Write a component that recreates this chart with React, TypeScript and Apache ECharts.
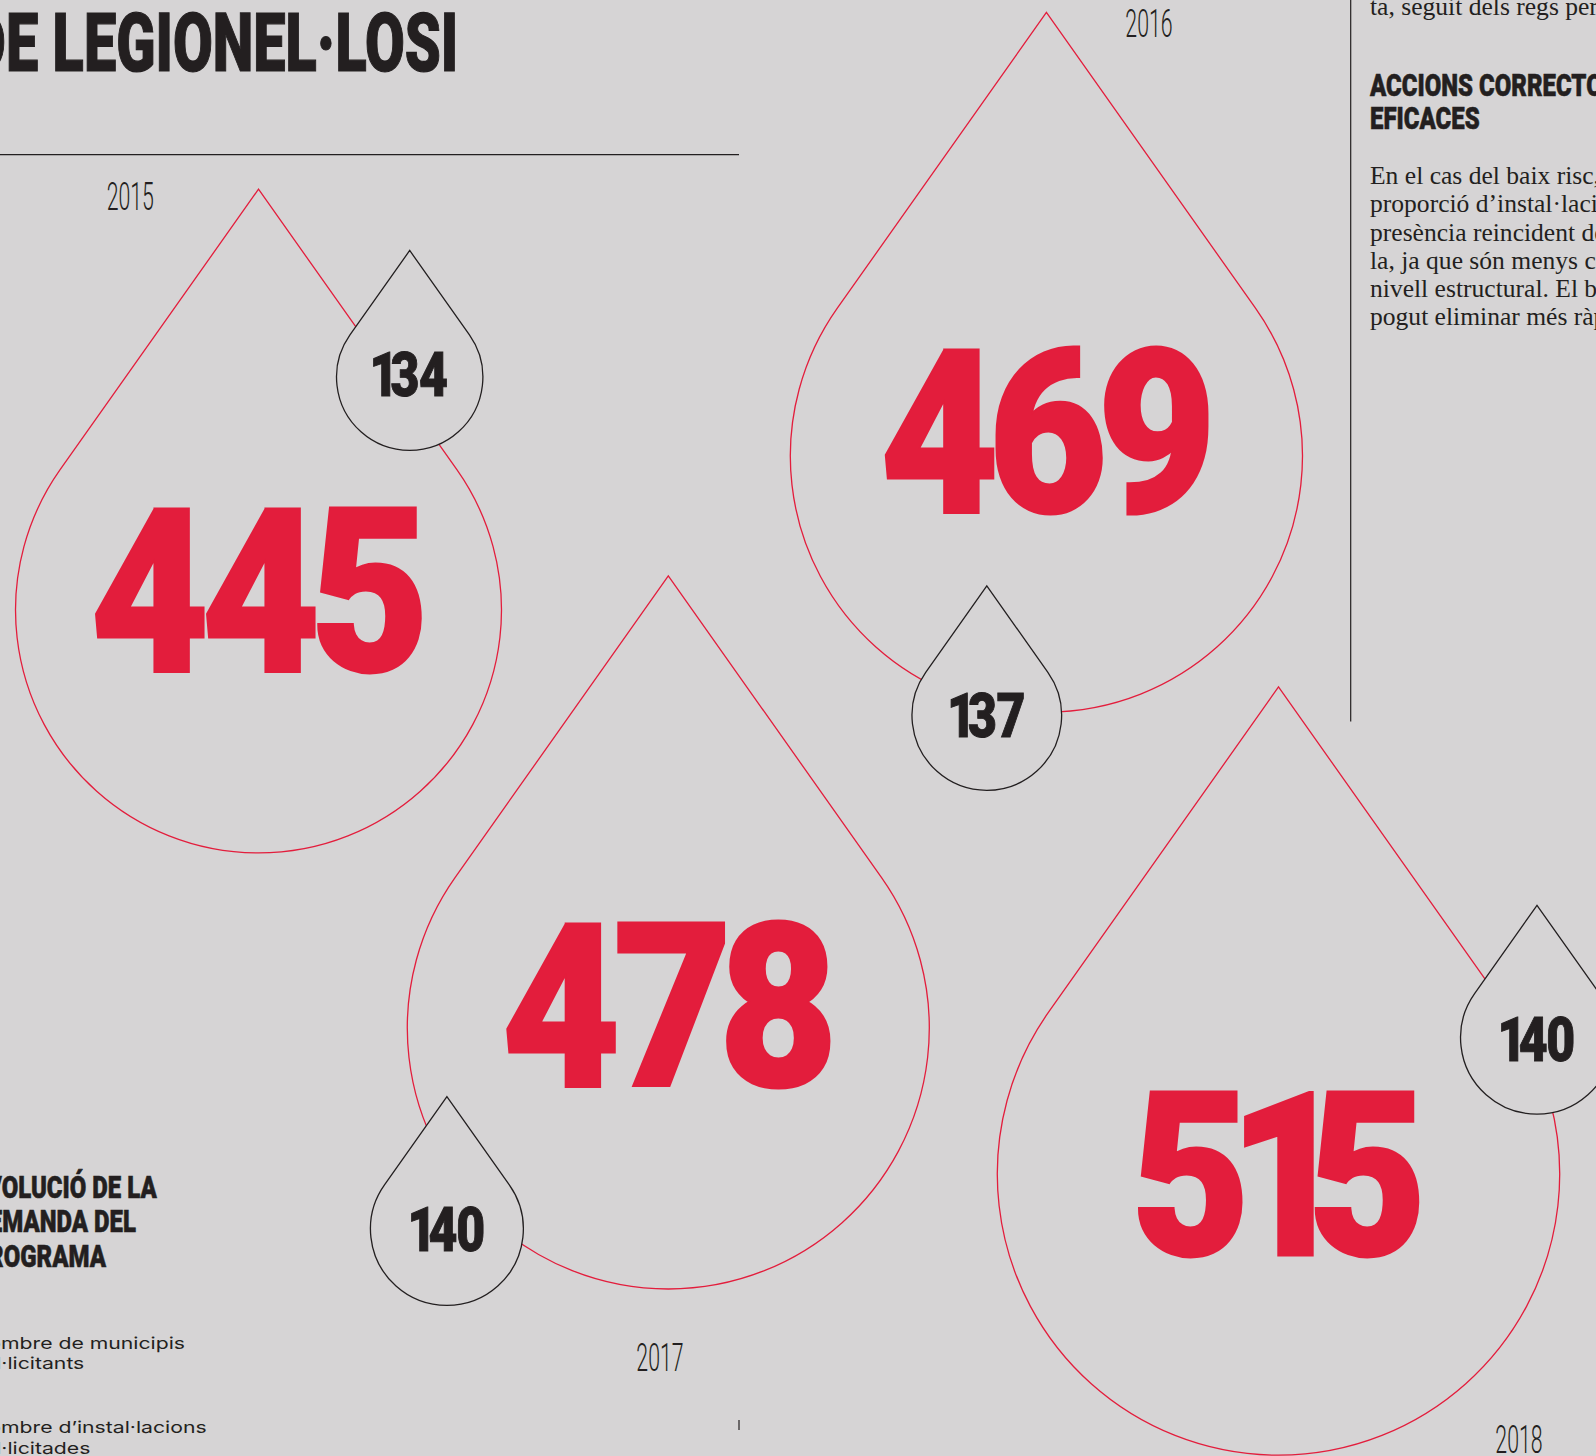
import React, { useEffect, useRef } from 'react';
import * as echarts from 'echarts';

// ---------------- data ----------------
const years = ['2015', '2016', '2017', '2018'];
const installacions = [445, 469, 478, 515]; // big red drops
const municipis = [134, 137, 140, 140]; // small black drops
const seriesNames = ['Nombre d’instal·lacions sol·licitades', 'Nombre de municipis sol·licitants'];

const titleText = 'DE LEGIONEL·LOSI';
const chartHeading = ['EVOLUCIÓ DE LA', 'DEMANDA DEL', 'PROGRAMA'];
const legendItems = ['Nombre de municipis\nsol·licitants', 'Nombre d’instal·lacions\nsol·licitades'];
const sideTopLine = 'ta, seguit dels regs per';
const sideHeading = ['ACCIONS CORRECTORES', 'EFICACES'];
const sideBody = [
  'En el cas del baix risc, la',
  'proporció d’instal·lacions',
  'presència reincident de',
  'la, ja que són menys co',
  'nivell estructural. El ba',
  'pogut eliminar més ràpid',
];

// ---------------- layout (page pixels) ----------------
const W = 1596;
const H = 1456;
const bigPos = [[258.5, 610], [1046.4, 456], [668.3, 1028], [1278.5, 1174]];
const bigLabelDy = [-20, -25, -23, 0];
const smallPos = [[409.7, 377.2], [986.8, 715.5], [446.9, 1229], [1537, 1037.7]];
const smallLabelDy = [-3, 0, 0, 2];
const yearPos = [[130.3, 196.3], [1149, 23.3], [660, 1357.5], [1519, 1439]];
const legendBaselines = [1349, 1433.3];
const PX_PER_UNIT = 0.546;

// ---------------- styles ----------------
const BG = '#d6d4d5';
const RED = '#e31d3c';
const INK = '#231f20';
const SANS = 'Roboto, "Noto Sans", "DejaVu Sans", sans-serif';
const SERIF = '"Liberation Serif", "DejaVu Serif", serif';
const GEO = 'Inter, "Noto Sans", sans-serif';
const CAP = 0.711;

let ctx: any = null;
function metrics(text: string, weight: number, size: number, family: string) {
  if (!ctx) ctx = document.createElement('canvas').getContext('2d');
  ctx.font = `${weight} ${size}px ${family}`;
  const m = ctx.measureText(text);
  const L = m.actualBoundingBoxLeft || 0;
  const R = m.actualBoundingBoxRight || m.width;
  return { L, R, ink: L + R > 0 ? L + R : m.width, adv: m.width };
}
function condensed(cap: number, weight: number, ref: string, target: number, stroke = 0) {
  const size = (cap - stroke) / CAP;
  const sx = (target - stroke) / metrics(ref, weight, size, SANS).ink;
  return { size, weight, family: SANS, sx, stroke };
}

function capText(text: string, x: number, y: number, st: any, fill: string, align = 'center') {
  const style: any = {
    text,
    fill,
    fontFamily: st.family,
    fontWeight: st.weight,
    fontSize: st.size,
    align,
    verticalAlign: 'middle',
  };
  if (st.stroke) {
    style.stroke = fill;
    style.lineWidth = st.stroke;
  }
  return { type: 'text', x, y: y + 0.0135 * st.size, scaleX: st.sx, scaleY: 1, style };
}

// digits laid out one by one with tight, even gaps (ink to ink)
function digitSx(ref: string, cap: number, weight: number, target: number, gap: number, stroke: number) {
  const size = (cap - stroke) / CAP;
  let sum = 0;
  for (const ch of ref) sum += metrics(ch, weight, size, SANS).ink;
  const sx = (target - stroke - gap * (ref.length - 1)) / sum;
  return { size, weight, family: SANS, sx, stroke, gap };
}
function digitTexts(text: string, cx: number, cy: number, st: any, fill: string) {
  const ms = Array.from(text).map((ch) => metrics(ch, st.weight, st.size, st.family));
  const total = ms.reduce((a, m) => a + m.ink * st.sx, 0) + st.gap * (ms.length - 1);
  let p = cx - total / 2;
  return Array.from(text).map((ch, i) => {
    const m = ms[i];
    const el = capText(ch, p + m.L * st.sx, cy, st, fill, 'left');
    p += m.ink * st.sx + st.gap;
    return el;
  });
}

function baseText(text: string, x: number, baseline: number, size: number, family: string, k: number, fill: string) {
  return {
    type: 'text',
    x,
    y: baseline - k * size,
    style: { text, fill, fontFamily: family, fontWeight: 400, fontSize: size, align: 'left', verticalAlign: 'middle' },
  };
}

function dropPath(r: number) {
  const d = Math.sqrt(3) * r;
  const tx = r * Math.sqrt(2 / 3);
  const ty = -r / Math.sqrt(3);
  return `M0 ${-d} L${tx} ${ty} A${r} ${r} 0 1 1 ${-tx} ${ty} Z`;
}

export default function App() {
  const ref = useRef<HTMLDivElement>(null);
  useEffect(() => {
    document.body.style.margin = '0';
    document.body.style.background = BG;
    const BIG = digitSx('445', 165, 900, 328, 3, 3);
    const SMALL = digitSx('134', 44.5, 900, 75, 1.5, 1);
    const YEAR = condensed(27.3, 300, '2015', 46);
    const TITLE = condensed(59, 900, 'LEGIONEL·LOSI', 401, 1.2);
    const HEAD = condensed(23.5, 900, 'EFICACES', 109.3, 0.6);
    const bodySize = 24 * 223 / metrics('En el cas del baix risc', 400, 24, SERIF).ink;
    const legSize = 16.5;
    const legSx = 182 / metrics('mbre de municipis', 400, legSize, GEO).ink;
    const legX = 1 - metrics('No', 400, legSize, GEO).adv * legSx;
    const legLH = 20.8;

    const chart = echarts.init(ref.current!, null, { renderer: 'svg' });

    const renderBig = (params: any, api: any) => {
      const i = params.dataIndex;
      const p = api.coord([api.value(0), api.value(1)]);
      const v = api.value(2);
      const r = v * PX_PER_UNIT;
      const yp = api.coord(yearPos[i]);
      return {
        type: 'group',
        children: [
          { type: 'path', x: p[0], y: p[1], shape: { pathData: dropPath(r) }, style: { fill: BG, stroke: RED, lineWidth: 1.3 } },
          ...digitTexts(String(v), p[0], p[1] + bigLabelDy[i], BIG, RED),
          capText(years[i], yp[0], yp[1], YEAR, INK),
        ],
      };
    };
    const renderSmall = (params: any, api: any) => {
      const i = params.dataIndex;
      const p = api.coord([api.value(0), api.value(1)]);
      const v = api.value(2);
      const r = v * PX_PER_UNIT;
      return {
        type: 'group',
        children: [
          { type: 'path', x: p[0], y: p[1], shape: { pathData: dropPath(r) }, style: { fill: BG, stroke: INK, lineWidth: 1.3 } },
          ...digitTexts(String(v), p[0], p[1] + smallLabelDy[i], SMALL, INK),
        ],
      };
    };

    const graphic: any[] = [
      capText(titleText, 458.3, 42.2, TITLE, INK, 'right'),
      { type: 'line', shape: { x1: 0, y1: 154.7, x2: 739, y2: 154.7 }, style: { stroke: INK, lineWidth: 1.2 } },
      { type: 'line', shape: { x1: 1350.7, y1: 0, x2: 1350.7, y2: 721.5 }, style: { stroke: INK, lineWidth: 1.2 } },
      { type: 'line', shape: { x1: 739, y1: 1420, x2: 739, y2: 1430 }, style: { stroke: INK, lineWidth: 1.2 } },
      baseText(sideTopLine, 1370, 15, bodySize, SERIF, 0.3375, INK),
      capText(sideHeading[0], 1370, 84.7, HEAD, INK, 'left'),
      capText(sideHeading[1], 1370, 117.7, HEAD, INK, 'left'),
      ...sideBody.map((t, i) => baseText(t, 1370, 184.3 + i * 28.2, bodySize, SERIF, 0.3375, INK)),
      capText(chartHeading[0], 156.7, 1186.7, HEAD, INK, 'right'),
      capText(chartHeading[1], 136, 1221.2, HEAD, INK, 'right'),
      capText(chartHeading[2], 106, 1255.8, HEAD, INK, 'right'),
      ...legendItems.map((t, i) => ({
        type: 'text',
        x: legX,
        y: legendBaselines[i] - legLH / 2 - 0.363 * legSize,
        scaleX: legSx,
        scaleY: 1,
        style: {
          text: t,
          fill: INK,
          fontFamily: GEO,
          fontWeight: 400,
          fontSize: legSize,
          lineHeight: legLH,
          align: 'left',
          verticalAlign: 'top',
        },
      })),
    ];

    chart.setOption({
      backgroundColor: BG,
      animation: false,
      grid: { left: 0, right: 0, top: 0, bottom: 0 },
      xAxis: { type: 'value', min: 0, max: W, show: false },
      yAxis: { type: 'value', min: 0, max: H, inverse: true, show: false },
      series: [
        {
          type: 'custom',
          name: seriesNames[0],
          z: 2,
          silent: true,
          clip: false,
          data: installacions.map((v, i) => [bigPos[i][0], bigPos[i][1], v]),
          renderItem: renderBig,
        },
        {
          type: 'custom',
          name: seriesNames[1],
          z: 3,
          silent: true,
          clip: false,
          data: municipis.map((v, i) => [smallPos[i][0], smallPos[i][1], v]),
          renderItem: renderSmall,
        },
      ],
      graphic,
    });
    return () => chart.dispose();
  }, []);
  return <div ref={ref} style={{ position: 'fixed', left: 0, top: 0, width: W, height: H }} />;
}
